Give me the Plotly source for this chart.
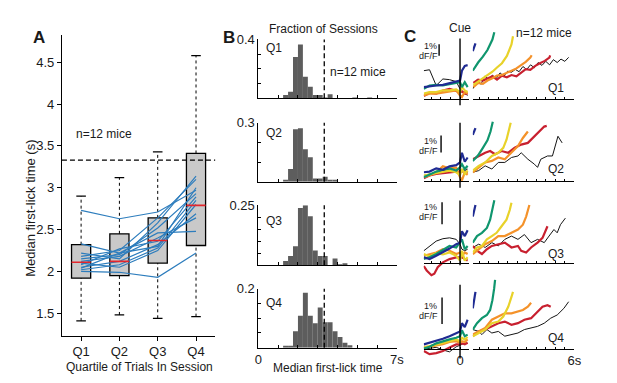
import plotly.graph_objects as go

W, H = 617, 383
FONT = "Liberation Sans, Arial, sans-serif"

# ---------------- Panel A data ----------------
QUARTILES = ["Q1", "Q2", "Q3", "Q4"]
BOX_LOW_WHISKER = [1.41, 1.48, 1.44, 1.46]
BOX_Q1 = [1.92, 1.95, 2.10, 2.31]
BOX_MEDIAN = [2.11, 2.12, 2.37, 2.79]
BOX_Q3 = [2.32, 2.45, 2.64, 3.41]
BOX_HIGH_WHISKER = [2.90, 3.12, 3.43, 4.58]
THRESHOLD = 3.33  # dashed line (s)

MOUSE_MEDIANS = [
    [2.73, 2.63, 2.71, 2.97],
    [2.00, 1.99, 1.93, 2.22],
    [2.33, 2.22, 2.46, 2.48],
    [2.22, 2.15, 2.58, 3.14],
    [2.18, 2.25, 2.64, 3.10],
    [2.15, 2.20, 2.52, 2.93],
    [2.12, 2.18, 2.40, 2.64],
    [2.08, 2.27, 2.36, 2.89],
    [2.05, 2.12, 2.32, 2.69],
    [2.02, 2.08, 2.28, 2.85],
    [2.10, 2.05, 2.25, 2.80],
    [2.04, 2.22, 2.30, 3.00],
]

# ---------------- Panel B data ----------------
BIN_START = 1.25
BIN_WIDTH = 0.25
HIST_Q1 = [0.023, 0.045, 0.280, 0.366, 0.147, 0.079, 0.023, 0.023, 0.005, 0.027,
           0.0, 0.0, 0.0, 0.0, 0.004, 0.0, 0.0, 0.004]
HIST_Q2 = [0.007, 0.065, 0.267, 0.273, 0.165, 0.125, 0.017, 0.017, 0.025, 0.010,
           0.007, 0.0, 0.0, 0.0, 0.0, 0.0, 0.0, 0.0]
HIST_Q3 = [0.017, 0.038, 0.079, 0.239, 0.250, 0.204, 0.061, 0.038, 0.038, 0.0,
           0.028, 0.003, 0.008, 0.0, 0.0, 0.0, 0.0, 0.0]
HIST_Q4 = [0.006, 0.006, 0.056, 0.108, 0.186, 0.108, 0.083, 0.136, 0.086, 0.086,
           0.056, 0.036, 0.017, 0.008, 0.0, 0.0, 0.0, 0.0]
HIST_YMAX = [0.4, 0.3, 0.25, 0.2]
HIST_YSTEP = [0.1, 0.1, 0.05, 0.05]
HIST_YLABEL = ["0.4", "0.3", "0.25", "0.2"]

# ---------------- Panel C data (dF/F, %) ----------------
LEFT_T = [-1.9, -1.6, -1.25, -0.9, -0.55, -0.2, 0.0, 0.1, 0.25, 0.4]

C_Q1_LEFT = {
    "black": (LEFT_T, [2.49, 2.57, 1.20, 1.77, 1.71, 1.54, 0.91, 0.63, 0.49, 0.34]),
    "red": (LEFT_T, [0.29, 0.57, 0.49, 0.77, 0.91, 0.77, 0.63, 0.69, 0.49, 0.49]),
    "orange": (LEFT_T, [0.34, 0.49, 0.49, 0.57, 0.69, 0.77, 0.34, 0.20, 0.63, 0.49]),
    "yellow": (LEFT_T, [0.49, 0.63, 0.63, 0.77, 0.77, 0.86, 0.63, 1.06, 0.77, 0.63]),
    "green": (LEFT_T, [0.91, 1.20, 1.26, 1.20, 1.31, 1.43, 1.49, 1.06, 1.49, 1.06]),
    "blue": (LEFT_T, [1.06, 1.14, 1.20, 1.26, 1.43, 1.54, 1.63, 2.49, 2.91, 2.97]),
}
C_Q1_RIGHT = {
    "black": ([0.67, 0.9, 1.1, 1.3, 1.5, 1.7, 1.9, 2.1, 2.3, 2.5, 2.7, 2.9, 3.1, 3.3, 3.5,
               3.7, 3.9, 4.1, 4.3, 4.5, 4.7, 4.9, 5.1, 5.3, 5.5, 5.7],
              [0.91, 1.70, 1.30, 2.00, 1.75, 2.10, 1.80, 2.30, 2.00, 2.45, 2.35, 2.60, 2.40,
               2.85, 2.60, 3.00, 2.75, 3.20, 2.95, 3.30, 3.00, 3.45, 3.20, 3.50, 3.30, 3.65]),
    "red": ([0.7, 0.95, 1.2, 1.44, 1.7, 1.94, 2.2, 2.46, 2.7, 2.96, 3.2, 3.45, 3.69, 3.95,
             4.19, 4.45, 4.69, 4.73],
            [1.43, 1.71, 1.63, 1.83, 2.00, 1.71, 2.06, 1.91, 2.11, 2.00, 2.34, 2.63, 2.57,
             2.91, 3.14, 3.34, 3.63, 3.83]),
    "orange": ([0.7, 0.95, 1.2, 1.44, 1.7, 1.94, 2.2, 2.46, 2.7, 2.96, 3.2, 3.45, 3.69, 3.76],
               [1.06, 1.43, 1.34, 1.63, 1.83, 2.06, 2.11, 2.34, 2.49, 2.69, 2.97, 3.26, 3.63, 3.83]),
    "yellow": ([0.7, 0.95, 1.2, 1.44, 1.7, 1.94, 2.2, 2.46, 2.7, 2.78],
               [1.26, 1.54, 1.77, 2.11, 2.40, 2.77, 3.14, 3.77, 4.77, 5.49]),
    "green": ([0.67, 0.95, 1.2, 1.44, 1.7, 1.8],
              [2.49, 3.20, 3.71, 4.29, 5.20, 5.83]),
    "blue": ([0.67, 0.81], [4.20, 4.86]),
}

C_Q2_LEFT = {
    "black": (LEFT_T, [0.31, 0.40, 0.50, 0.60, 0.69, 0.73, 0.60, 0.69, 0.60, 0.69]),
    "red": (LEFT_T, [0.15, 0.31, 0.40, 0.46, 0.50, 0.54, 0.50, 0.60, 0.46, 0.50]),
    "orange": (LEFT_T, [0.21, 0.31, 0.50, 0.85, 0.73, 0.77, 0.21, 0.02, 0.50, 0.35]),
    "yellow": (LEFT_T, [0.31, 0.38, 0.46, 0.54, 0.60, 0.50, 0.35, 0.69, 0.40, 0.60]),
    "green": (LEFT_T, [0.21, 0.35, 0.54, 0.65, 0.73, 0.60, 0.79, 0.98, 0.69, 0.88]),
    "blue": (LEFT_T, [0.50, 0.54, 0.73, 0.65, 0.85, 0.92, 1.08, 1.65, 1.12, 1.37]),
}
C_Q2_RIGHT = {
    "black": ([0.67, 0.98, 1.32, 1.67, 2.01, 2.35, 2.7, 3.04, 3.21, 3.56, 3.9, 4.07, 4.24,
               4.59, 4.85, 5.02, 5.14, 5.36],
              [0.50, 0.60, 0.88, 0.69, 1.08, 1.08, 1.37, 1.46, 1.65, 1.27, 0.98, 0.79, 1.27,
               1.46, 1.46, 2.13, 2.62, 2.23]),
    "red": ([0.67, 0.98, 1.32, 1.58, 1.84, 2.18, 2.53, 2.87, 3.21, 3.56, 3.9, 4.16, 4.42, 4.55],
            [1.27, 1.46, 1.65, 1.75, 1.56, 1.75, 1.65, 1.94, 2.13, 2.23, 2.62, 2.90, 3.19, 3.23]),
    "orange": ([0.67, 0.98, 1.32, 1.67, 2.01, 2.35, 2.7, 3.04, 3.3, 3.56],
               [0.50, 0.79, 1.08, 1.17, 1.37, 1.27, 1.65, 2.04, 2.52, 2.90]),
    "yellow": ([0.67, 0.98, 1.32, 1.67, 2.01, 2.27, 2.44, 2.58, 2.66],
               [0.60, 0.88, 1.08, 1.46, 1.65, 1.94, 2.42, 3.00, 3.42]),
    "green": ([0.67, 0.95, 1.2, 1.44, 1.6, 1.72],
              [1.17, 1.50, 1.94, 2.38, 2.90, 3.48]),
    "blue": ([0.67, 0.81], [2.71, 3.10]),
}

C_Q3_LEFT = {
    "black": (LEFT_T, [0.57, 0.79, 1.01, 1.12, 1.16, 1.09, 0.87, 0.64, 0.57, 0.64]),
    "red": ([-1.9, -1.75, -1.5, -1.35, -1.17, -0.9, -0.55, -0.2, 0.1, 0.4],
            [-0.13, -0.33, -0.55, -0.48, -0.18, 0.04, 0.19, 0.27, 0.27, 0.12]),
    "orange": (LEFT_T, [0.34, 0.42, 0.49, 0.64, 0.57, 0.42, 0.49, 0.34, 0.49, 0.42]),
    "yellow": (LEFT_T, [0.42, 0.31, 0.46, 0.40, 0.49, 0.34, 0.12, 0.57, 0.12, 0.27]),
    "green": (LEFT_T, [0.19, 0.27, 0.42, 0.61, 0.79, 0.72, 0.94, 1.09, 0.64, 0.79]),
    "blue": (LEFT_T, [0.27, 0.19, 0.34, 0.49, 0.67, 0.87, 0.94, 1.46, 1.24, 1.51]),
}
C_Q3_RIGHT = {
    "black": ([0.67, 0.98, 1.32, 1.67, 2.01, 2.35, 2.7, 3.04, 3.38, 3.73, 4.07, 4.42, 4.67,
               4.93, 5.1, 5.27, 5.53],
              [0.72, 0.87, 0.72, 0.94, 0.79, 1.09, 1.24, 1.09, 1.31, 0.94, 1.09, 0.94, 1.24,
               1.54, 1.39, 1.76, 2.06]),
    "red": ([0.67, 0.89, 1.15, 1.41, 1.67, 2.01, 2.35, 2.7, 3.04, 3.21, 3.47, 3.73, 4.07,
             4.33, 4.5, 4.59],
            [0.79, 0.57, 0.42, 0.64, 0.79, 0.87, 0.94, 0.72, 0.79, 0.57, 0.49, 0.72, 0.94,
             1.16, 1.46, 1.69]),
    "orange": ([0.67, 0.98, 1.32, 1.67, 2.01, 2.35, 2.7, 3.04, 3.3, 3.47, 3.64],
               [0.42, 0.64, 0.87, 1.01, 1.24, 1.24, 1.39, 1.54, 1.76, 2.13, 2.66]),
    "yellow": ([0.67, 0.89, 1.15, 1.41, 1.67, 1.92, 2.18, 2.44, 2.61, 2.7],
               [0.49, 0.72, 0.79, 1.09, 1.24, 1.39, 1.69, 1.99, 2.43, 2.76]),
    "green": ([0.67, 0.89, 1.15, 1.41, 1.58, 1.7, 1.8],
              [0.94, 1.24, 1.39, 1.61, 1.99, 2.43, 2.88]),
    "blue": ([0.67, 0.81], [2.13, 2.66]),
}

C_Q4_LEFT = {
    "black": (LEFT_T, [-0.02, 0.02, 0.05, -0.05, -0.12, 0.07, 0.12, 0.16, 0.22, 0.20]),
    "red": (LEFT_T, [-0.09, -0.21, -0.17, -0.09, 0.04, 0.16, 0.16, 0.20, 0.16, 0.22]),
    "orange": (LEFT_T, [0.07, 0.07, 0.12, 0.17, 0.25, 0.28, 0.22, 0.28, 0.25, 0.35]),
    "yellow": (LEFT_T, [0.04, 0.10, 0.16, 0.22, 0.28, 0.35, 0.28, 0.41, 0.35, 0.44]),
    "green": (LEFT_T, [0.00, 0.07, 0.20, 0.28, 0.35, 0.41, 0.47, 0.69, 0.47, 0.53]),
    "blue": (LEFT_T, [0.16, 0.22, 0.28, 0.37, 0.47, 0.59, 0.65, 0.96, 0.81, 1.09]),
}
C_Q4_RIGHT = {
    "black": ([0.67, 0.98, 1.15, 1.41, 1.67, 2.01, 2.35, 2.7, 3.04, 3.38, 3.73, 4.07, 4.42,
               4.76, 5.1, 5.45, 5.7],
              [0.72, 0.65, 0.53, 0.72, 0.59, 0.65, 0.47, 0.53, 0.59, 0.72, 0.78, 0.84, 0.96,
               1.15, 1.27, 1.52, 1.77]),
    "red": ([0.67, 0.98, 1.32, 1.67, 2.01, 2.35, 2.7, 3.04, 3.38, 3.73, 4.07, 4.33, 4.59, 4.76],
            [0.47, 0.65, 0.72, 0.84, 0.96, 1.02, 0.90, 0.96, 1.09, 1.15, 1.40, 1.58, 1.64, 1.58]),
    "orange": ([0.67, 0.98, 1.32, 1.67, 2.01, 2.35, 2.7, 3.04, 3.3, 3.56, 3.73],
               [0.53, 0.65, 0.78, 1.09, 1.21, 1.33, 1.33, 1.40, 1.46, 1.58, 1.73]),
    "yellow": ([0.67, 0.98, 1.32, 1.67, 2.01, 2.27, 2.53, 2.7, 2.78],
               [0.47, 0.59, 0.72, 0.96, 1.02, 1.21, 1.58, 1.95, 2.14]),
    "green": ([0.67, 0.89, 1.15, 1.41, 1.58, 1.7, 1.79, 1.84],
              [0.72, 0.96, 1.15, 1.27, 1.46, 1.83, 2.26, 2.59]),
    "blue": ([0.67, 0.81], [1.52, 2.14]),
}

C_ROWS = [(C_Q1_LEFT, C_Q1_RIGHT), (C_Q2_LEFT, C_Q2_RIGHT),
          (C_Q3_LEFT, C_Q3_RIGHT), (C_Q4_LEFT, C_Q4_RIGHT)]
TRACE_COLORS = {"black": "#151515", "red": "#c8202f", "orange": "#f4922a",
                "yellow": "#e8d22a", "green": "#10966e", "blue": "#1f2b92"}
TRACE_WIDTH = {"black": 1.0, "red": 2.2, "orange": 2.2, "yellow": 2.2,
               "green": 2.2, "blue": 2.2}

# ---------------- layout helpers (pixel geometry) ----------------
def fx(px):
    return px / W

def fy(py):
    return 1 - py / H

fig = go.Figure()
shapes, annotations = [], []
layout = dict(width=W, height=H, autosize=False, margin=dict(l=0, r=0, t=0, b=0),
              paper_bgcolor="white", plot_bgcolor="rgba(0,0,0,0)", showlegend=False,
              barmode="overlay", font=dict(family=FONT, size=13, color="#1a1a1a"))

def ann(text, x, y, size=12, bold=False, angle=0):
    annotations.append(dict(text=f"<b>{text}</b>" if bold else text, x=fx(x), y=fy(y),
                            xref="paper", yref="paper", showarrow=False, textangle=angle,
                            font=dict(size=size, family=FONT, color="#1a1a1a"),
                            xanchor="center", yanchor="middle"))

# ================= Panel A =================
xs = list(range(1, len(QUARTILES) + 1))
BOX_W = 0.5
CAP_W = 0.25
fig.add_trace(go.Bar(x=xs, y=[h - l for h, l in zip(BOX_Q3, BOX_Q1)], base=BOX_Q1,
                     width=BOX_W, marker=dict(color="#c9c9c9", line=dict(color="black", width=1.3)),
                     xaxis="x", yaxis="y", hoverinfo="skip"))
wx, wy = [], []
for x, lo, q1, q3, hi in zip(xs, BOX_LOW_WHISKER, BOX_Q1, BOX_Q3, BOX_HIGH_WHISKER):
    wx += [x, x, None, x, x, None]
    wy += [lo, q1, None, q3, hi, None]
fig.add_trace(go.Scatter(x=wx, y=wy, mode="lines", line=dict(color="black", width=1, dash="dot"),
                         xaxis="x", yaxis="y", hoverinfo="skip"))
cx, cy = [], []
for x, lo, hi in zip(xs, BOX_LOW_WHISKER, BOX_HIGH_WHISKER):
    cx += [x - CAP_W / 2, x + CAP_W / 2, None, x - CAP_W / 2, x + CAP_W / 2, None]
    cy += [lo, lo, None, hi, hi, None]
fig.add_trace(go.Scatter(x=cx, y=cy, mode="lines", line=dict(color="black", width=1.3),
                         xaxis="x", yaxis="y", hoverinfo="skip"))
for m in MOUSE_MEDIANS:
    fig.add_trace(go.Scatter(x=xs, y=m, mode="lines", line=dict(color="#2d7dbd", width=1.2),
                             xaxis="x", yaxis="y", hoverinfo="skip"))
mx, my = [], []
for x, md in zip(xs, BOX_MEDIAN):
    mx += [x - BOX_W / 2, x + BOX_W / 2, None]
    my += [md, md, None]
fig.add_trace(go.Scatter(x=mx, y=my, mode="lines", line=dict(color="#e3262c", width=1.6),
                         xaxis="x", yaxis="y", hoverinfo="skip"))
shapes.append(dict(type="line", xref="x domain", yref="y", x0=0, x1=1, y0=THRESHOLD, y1=THRESHOLD,
                   line=dict(color="black", width=1.3, dash="5px,3px")))
ytv = [1.5, 2.0, 2.5, 3.0, 3.5, 4.0, 4.5]
layout["xaxis"] = dict(domain=[fx(59), fx(215)], range=[0.5, 4.5], anchor="y", showline=True,
                       linecolor="black", linewidth=1, ticks="outside", ticklen=4,
                       tickcolor="black", tickvals=xs, ticktext=QUARTILES, showgrid=False,
                       zeroline=False, tickfont=dict(size=13))
layout["yaxis"] = dict(domain=[fy(335), fy(29)], range=[1.23, 4.82], anchor="x", showline=True,
                       linecolor="black", linewidth=1, ticks="outside", ticklen=4,
                       tickcolor="black", tickvals=ytv, ticktext=[f"{v:g}" for v in ytv],
                       showgrid=False, zeroline=False, tickfont=dict(size=13))
ann("A", 36, 31, size=17, bold=True)
ann("n=12 mice", 102, 129, size=12)
ann("Median first-lick time (s)", 27, 205, size=13, angle=-90)
ann("Quartile of Trials In Session", 138, 367, size=12)

# ================= Panel B =================
B_TOP = [33, 118, 202, 287]
B_BASE = [93, 178, 263, 347]
hists = [HIST_Q1, HIST_Q2, HIST_Q3, HIST_Q4]
for i, hist in enumerate(hists):
    k = i + 2
    centers = [BIN_START + BIN_WIDTH * (j + 0.5) for j in range(len(hist))]
    fig.add_trace(go.Bar(x=centers, y=hist, width=BIN_WIDTH, marker=dict(color="#5d5d5d", line=dict(width=0)),
                         xaxis=f"x{k}", yaxis=f"y{k}", hoverinfo="skip"))
    last = i == len(hists) - 1
    xtv = list(range(0, 8))
    layout[f"xaxis{k}"] = dict(domain=[fx(259), fx(400)], range=[0, 7], anchor=f"y{k}",
                               showline=True, linecolor="black", linewidth=1, ticks="inside",
                               ticklen=3, tickcolor="black", tickvals=xtv,
                               ticktext=["0" if (last and v == 0) else ("7s" if (last and v == 7) else "") for v in xtv],
                               showgrid=False, zeroline=False, tickfont=dict(size=13))
    nst = int(round(HIST_YMAX[i] / HIST_YSTEP[i]))
    ytv_b = [HIST_YSTEP[i] * j for j in range(1, nst + 1)]
    layout[f"yaxis{k}"] = dict(domain=[fy(B_BASE[i]), fy(B_TOP[i])], range=[0, HIST_YMAX[i]],
                               anchor=f"x{k}", showline=True, linecolor="black", linewidth=1,
                               ticks="inside", ticklen=3, tickcolor="black", tickvals=ytv_b,
                               ticktext=["" for _ in ytv_b[:-1]] + [HIST_YLABEL[i]],
                               showgrid=False, zeroline=False, tickfont=dict(size=13))
    shapes.append(dict(type="line", xref=f"x{k}", yref=f"y{k} domain", x0=THRESHOLD, x1=THRESHOLD,
                       y0=0, y1=1, line=dict(color="black", width=1.3, dash="5px,3px")))
    ann(QUARTILES[i], 275, [42, 128, 218, 302][i], size=12)
ann("B", 229, 31, size=17, bold=True)
ann("Fraction of Sessions", 325, 22, size=12)
ann("n=12 mice", 360, 66, size=12)
ann("Median first-lick time", 330, 368, size=12)

# ================= Panel C =================
C_BASE = [94, 177, 261, 348]
C_TOP = [20, 106, 190, 274]
C_BOT = [104, 190, 281, 364]
C_PX_PER_PCT = [11.7, 17.3, 22.3, 27.0]
T0_PX, PX_PER_S = 464.3, 19.4
LEFT_PX = (427.3, 473.3)
RIGHT_PX = (477.3, 580.7)
CUE_TOP_PX = [32, 118, 197, 283]
CUE_BOT_PX = [100, 184, 263, 358]
BAR_X_PX = [443, 445, 446, 446]
BAR_TOP_PX = [38, 131, 199, 296]
PCT_LABEL_Y = [(40, 50), (137, 147), (204, 214), (305, 315)]
QLABEL_C_Y = [82, 165, 252, 337]

def t_of(px):
    return (px - T0_PX) / PX_PER_S

order = ["black", "red", "orange", "yellow", "green", "blue"]
for i, (left, right) in enumerate(C_ROWS):
    yk = 6 + i
    xl = 6 + i
    xr = 10 + i
    s = C_PX_PER_PCT[i]
    b = C_BASE[i]
    yr = [-(C_BOT[i] - b) / s, (b - C_TOP[i]) / s]
    last = i == 3
    for side, xk in ((left, xl), (right, xr)):
        for c in order:
            t, v = side[c]
            fig.add_trace(go.Scatter(x=t, y=v, mode="lines",
                                     line=dict(color=TRACE_COLORS[c], width=TRACE_WIDTH[c]),
                                     xaxis=f"x{xk}", yaxis=f"y{yk}", hoverinfo="skip"))
    ltv = [-1.5, -1.0, -0.5, 0.0]
    rtv = [1.0 + 0.5 * j for j in range(11)]
    common = dict(anchor="free", position=fy(b), showline=True, linecolor="black", linewidth=1,
                  ticks="inside", ticklen=2, tickcolor="black", showgrid=False, zeroline=False,
                  tickfont=dict(size=13))
    layout[f"xaxis{xl}"] = dict(domain=[fx(LEFT_PX[0]), fx(LEFT_PX[1])],
                                range=[t_of(LEFT_PX[0]), t_of(LEFT_PX[1])], tickvals=ltv,
                                ticktext=["", "", "", "0" if last else ""], **common)
    layout[f"xaxis{xr}"] = dict(domain=[fx(RIGHT_PX[0]), fx(RIGHT_PX[1])],
                                range=[t_of(RIGHT_PX[0]), t_of(RIGHT_PX[1])], tickvals=rtv,
                                ticktext=["" for _ in rtv[:-1]] + ["6s" if last else ""], **common)
    layout[f"yaxis{yk}"] = dict(domain=[fy(C_BOT[i]), fy(C_TOP[i])], range=yr, anchor=f"x{xl}",
                                visible=False, showgrid=False, zeroline=False)
    # cue line
    shapes.append(dict(type="line", xref=f"x{xl}", yref=f"y{yk}", x0=0, x1=0,
                       y0=(b - CUE_BOT_PX[i]) / s, y1=(b - CUE_TOP_PX[i]) / s,
                       line=dict(color="black", width=1.4)))
    # 1% dF/F scale bar
    top_v = (b - BAR_TOP_PX[i]) / s
    shapes.append(dict(type="line", xref="paper", yref=f"y{yk}", x0=fx(BAR_X_PX[i]), x1=fx(BAR_X_PX[i]),
                       y0=top_v - 1.0, y1=top_v, line=dict(color="black", width=1.4)))
    ann("1%", 434, PCT_LABEL_Y[i][0], size=9)
    ann("dF/F", 432, PCT_LABEL_Y[i][1], size=9)
    ann(QUARTILES[i], 562, QLABEL_C_Y[i], size=12)

ann("C", 413, 30, size=17, bold=True)
ann("Cue", 464, 21, size=12)
ann("n=12 mice", 550, 26, size=12)

layout["shapes"] = shapes
layout["annotations"] = annotations
fig.update_layout(**layout)
fig.write_html("out.html", config={"displayModeBar": False},
               post_script="document.body.style.margin='0px';document.body.style.padding='0px';")
